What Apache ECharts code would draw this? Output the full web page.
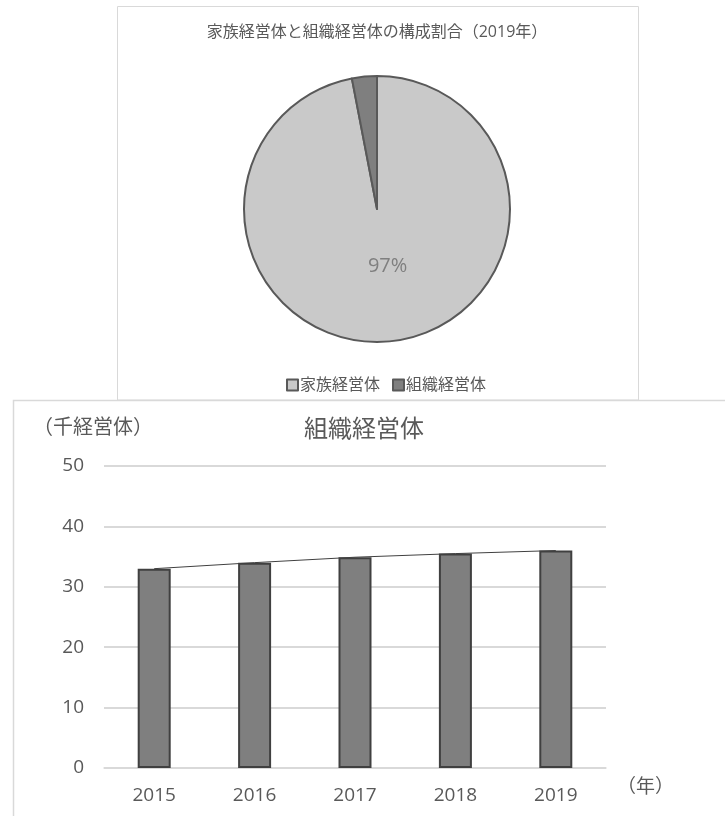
<!DOCTYPE html>
<html>
<head>
<meta charset="utf-8">
<script src="https://cdn.jsdelivr.net/npm/echarts@6/dist/echarts.min.js"></script>
<style>
  html, body { margin: 0; padding: 0; background: #ffffff; }
  #chart { width: 725px; height: 816px; }
</style>
</head>
<body>
<div id="chart"></div>
<script>
// 構成割合（2019年）: 千経営体
const shareNames = ['家族経営体', '組織経営体'];
const shareValues = [1153, 36];

// 組織経営体の推移
const years = ['2015', '2016', '2017', '2018', '2019'];
const orgCounts = [33.0, 34.0, 34.9, 35.5, 36.0];

// 縦軸の目盛
const yMin = 0, yMax = 50, yStep = 10;

const FONT = '"Open Sans", "Noto Sans CJK JP", sans-serif';
const TEXT = '#595959';
const FRAME = '#d9d9d9';

const chart = echarts.init(document.getElementById('chart'), null, { renderer: 'canvas' });

chart.setOption({
  animation: false,
  textStyle: { fontFamily: FONT },
  graphic: [
    // 円グラフの枠
    { type: 'rect', shape: { x: 117.5, y: 6.5, width: 521, height: 393.5 },
      style: { fill: 'none', stroke: FRAME, lineWidth: 1 }, z: 0 },
    // 棒グラフの枠
    { type: 'polyline', shape: { points: [[13.5, 816], [13.5, 400.5], [725, 400.5]] },
      style: { fill: 'none', stroke: FRAME, lineWidth: 1.5 }, z: 0 },
    { type: 'text', x: 377, y: 32, style: {
        text: '家族経営体と組織経営体の構成割合（2019年）', fill: TEXT,
        font: '16px ' + FONT, align: 'center', verticalAlign: 'middle' } },
    { type: 'text', x: 33, y: 428, style: {
        text: '（千経営体）', fill: TEXT, font: '20px ' + FONT,
        align: 'left', verticalAlign: 'middle' } },
    { type: 'text', x: 364, y: 430, style: {
        text: '組織経営体', fill: TEXT, font: '24px ' + FONT,
        align: 'center', verticalAlign: 'middle' } },
    { type: 'text', x: 617, y: 788, style: {
        text: '（年）', fill: TEXT, font: '19px ' + FONT,
        align: 'left', verticalAlign: 'middle' } }
  ],
  legend: {
    data: shareNames,
    left: 281,
    top: 372,
    icon: 'rect',
    itemWidth: 11,
    itemHeight: 11,
    itemGap: 12,
    textStyle: { color: TEXT, fontSize: 16, fontFamily: FONT, padding: [0, 0, 0, -3] }
  },
  grid: { left: 104, right: 119, top: 466, bottom: 48, containLabel: false },
  xAxis: {
    type: 'category',
    data: years,
    axisLine: { lineStyle: { color: FRAME, width: 1.5 } },
    axisTick: { show: false },
    axisLabel: { color: TEXT, fontSize: 19, margin: 18, fontFamily: FONT }
  },
  yAxis: {
    type: 'value',
    min: yMin, max: yMax, interval: yStep,
    axisLine: { show: false },
    axisTick: { show: false },
    axisLabel: { color: TEXT, fontSize: 19, margin: 20, fontFamily: FONT },
    splitLine: { lineStyle: { color: FRAME, width: 2 } }
  },
  series: [
    {
      type: 'pie',
      center: [377, 209],
      radius: 133,
      startAngle: 90,
      clockwise: true,
      legendHoverLink: false,
      itemStyle: { borderColor: '#595959', borderWidth: 2 },
      label: {
        show: true, position: 'inside',
        color: '#7f7f7f', fontSize: 20, fontFamily: FONT,
        formatter: p => Math.round(p.percent) + '%'
      },
      labelLayout: { dx: 4, dy: -12 },
      labelLine: { show: false },
      data: [
        { name: shareNames[0], value: shareValues[0], itemStyle: { color: '#c9c9c9' } },
        { name: shareNames[1], value: shareValues[1], itemStyle: { color: '#7f7f7f' },
          label: { show: false } }
      ]
    },
    {
      type: 'bar',
      data: orgCounts,
      barWidth: 33,
      itemStyle: { color: '#7f7f7f', borderColor: '#404040', borderWidth: 2 }
    },
    {
      type: 'line',
      data: orgCounts,
      symbol: 'none',
      lineStyle: { color: '#404040', width: 1 },
      z: 3
    }
  ]
});
</script>
</body>
</html>
